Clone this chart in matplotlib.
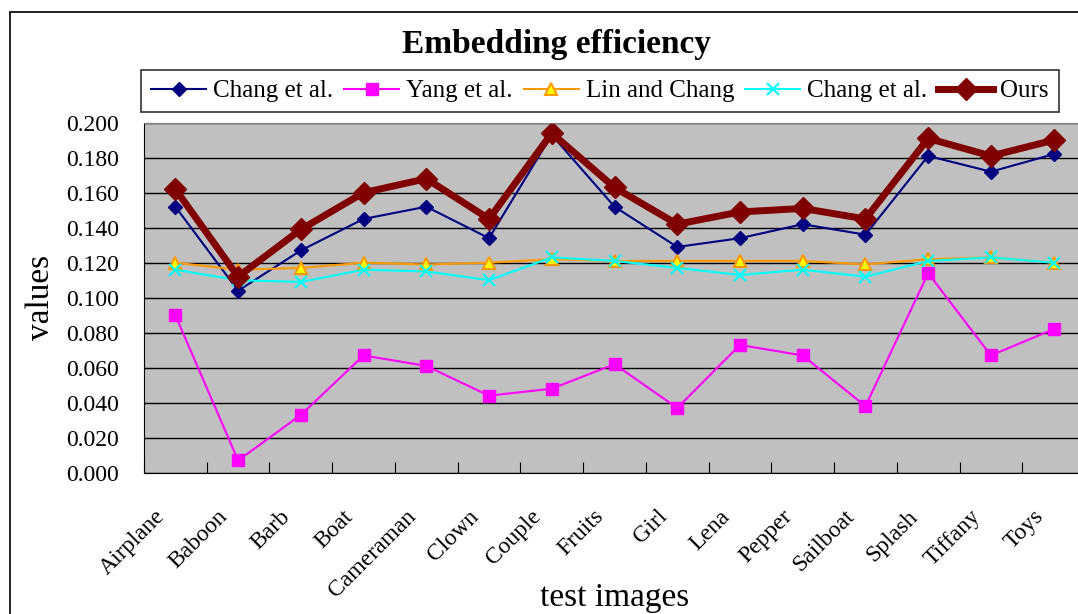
import numpy as np
import matplotlib
matplotlib.use("Agg")
import matplotlib.pyplot as plt
from matplotlib.patches import Rectangle
from matplotlib.transforms import ScaledTranslation

plt.rcParams['font.family'] = ['Liberation Serif', 'DejaVu Serif']

# data
images = ["Airplane", "Baboon", "Barb", "Boat", "Cameraman", "Clown", "Couple",
          "Fruits", "Girl", "Lena", "Pepper", "Sailboat", "Splash", "Tiffany", "Toys"]
chang1 = [0.152, 0.104, 0.127, 0.145, 0.152, 0.134, 0.193, 0.152,
          0.129, 0.134, 0.142, 0.136, 0.181, 0.172, 0.182]
yang = [0.090, 0.007, 0.033, 0.067, 0.061, 0.044, 0.048, 0.062,
        0.037, 0.073, 0.067, 0.038, 0.114, 0.067, 0.082]
lin_chang = [0.120, 0.116, 0.117, 0.120, 0.119, 0.120, 0.122, 0.121,
             0.121, 0.121, 0.121, 0.119, 0.122, 0.123, 0.120]
chang2 = [0.116, 0.110, 0.109, 0.116, 0.115, 0.110, 0.123, 0.121,
          0.117, 0.113, 0.116, 0.112, 0.121, 0.123, 0.120]
ours = [0.162, 0.112, 0.139, 0.160, 0.168, 0.145, 0.194, 0.163,
        0.142, 0.149, 0.151, 0.145, 0.191, 0.181, 0.190]
yticks = np.arange(0, 0.2001, 0.02)

W, H = 1078, 614
fig = plt.figure(figsize=(W / 100, H / 100), dpi=100)

# outer chart frame (runs off the right and bottom edge in the reference)
fig.patches.append(Rectangle((10 / W, -0.05), 1.2, (H - 12) / H + 0.05,
                             transform=fig.transFigure, fill=False,
                             edgecolor='black', lw=1.2))

ax = fig.add_axes([144 / W, (H - 472.7) / H, (1085 - 144) / W, 350 / H])
ax.set_facecolor('#C0C0C0')
x = np.arange(len(images))

ax.plot(x, chang1, color='#000080', marker='D', ms=7, lw=1.5, label='Chang et al.')
ax.plot(x, yang, color='#FF00FF', marker='s', ms=8, lw=1.5, label='Yang et al.')
ax.plot(x, lin_chang, color='#FF9900', marker='^', ms=9, mfc='#FFFF00',
        mec='#FF9900', mew=1.5, lw=1.5, label='Lin and Chang')
ax.plot(x, chang2, color='#00FFFF', marker='x', ms=9, mew=1.5, lw=1.5,
        label='Chang et al.')
ax.plot(x, ours, color='#800000', marker='D', ms=11, lw=5, label='Ours')

ax.set_xlim(-0.5, len(images) - 0.5)
ax.set_ylim(0, 0.2)
ax.set_yticks(yticks)
ax.set_yticklabels(['%.3f' % v for v in yticks], fontsize=17)
ax.yaxis.grid(True, color='black', lw=1)
ax.set_axisbelow(True)

ax.set_xticks(np.arange(len(images) + 1) - 0.5, minor=False)
ax.set_xticklabels([])
ax.set_xticks(x, minor=True)
ax.set_xticklabels(images, minor=True, rotation=45, ha='right',
                   rotation_mode='anchor', fontsize=17)
ax.tick_params(axis='x', which='major', direction='in', length=8, color='black')
ax.tick_params(axis='x', which='minor', length=0, pad=24)
ax.tick_params(axis='y', direction='in', length=6, pad=18)
shift = ScaledTranslation(-0.21, 0, fig.dpi_scale_trans)
for lab in ax.get_xticklabels(minor=True):
    lab.set_transform(lab.get_transform() + shift)

for s in ['top', 'right']:
    ax.spines[s].set_color('#808080')
ax.spines['left'].set_color('black')
ax.spines['bottom'].set_color('black')

ax.set_xlabel('test images', fontsize=24)
ax.xaxis.set_label_coords(0.5, -0.313)
ax.set_ylabel('values', fontsize=24)
ax.yaxis.set_label_coords(-0.094, 0.5)

fig.text(556 / W, (H - 45) / H, 'Embedding efficiency', fontsize=24,
         fontweight='bold', ha='center', va='center')

leg = fig.legend(loc='center', bbox_to_anchor=(600 / W, (H - 91) / H), ncol=5,
                 fontsize=18, frameon=True, fancybox=False, edgecolor='black',
                 handlelength=2.2, handletextpad=0.28, columnspacing=0.44,
                 borderpad=0.4, borderaxespad=0)
leg.get_frame().set_linewidth(1.2)

fig.savefig('out.png', dpi=100)
